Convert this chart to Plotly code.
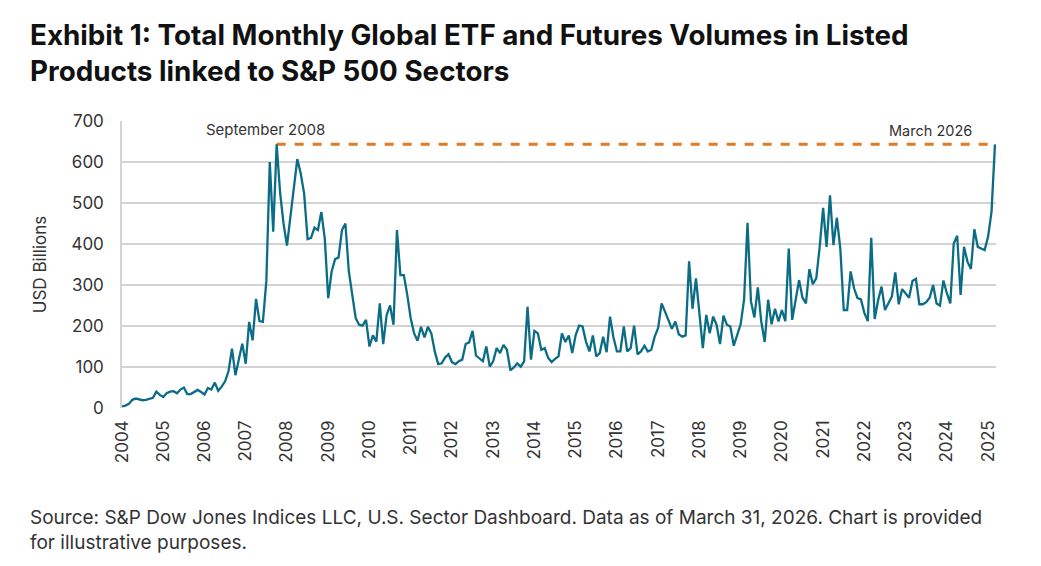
import plotly.graph_objects as go

# Monthly volumes (USD billions), index 0 .. 254
volumes = [
    4, 6, 10, 20, 23, 21, 19, 20, 23, 25, 40, 32, 27, 36, 40, 41, 36, 45, 50, 34,
    34, 40, 44, 39, 33, 49, 45, 62, 42, 52, 65, 90, 145, 80, 120, 157, 108, 210, 165, 266,
    212, 210, 310, 600, 430, 643, 525, 450, 396, 470, 530, 607, 572, 523, 412, 415, 440, 434, 478, 413,
    268, 333, 363, 367, 434, 450, 333, 276, 219, 203, 201, 215, 150, 177, 162, 255, 156, 227, 250, 203,
    434, 324, 324, 276, 219, 182, 164, 198, 172, 198, 182, 138, 107, 109, 123, 131, 112, 107, 114, 118,
    156, 160, 188, 128, 120, 114, 150, 101, 114, 146, 134, 154, 142, 92, 99, 109, 101, 114, 247, 118,
    188, 182, 142, 146, 122, 112, 120, 126, 182, 161, 177, 134, 178, 201, 199, 162, 138, 177, 126, 134,
    174, 136, 223, 172, 138, 138, 199, 138, 146, 201, 131, 138, 152, 138, 142, 174, 195, 255, 235, 215,
    193, 211, 180, 174, 177, 358, 242, 316, 223, 146, 227, 182, 223, 203, 156, 225, 203, 199, 152, 178,
    204, 264, 452, 260, 221, 294, 211, 161, 264, 204, 242, 211, 239, 212, 389, 215, 268, 312, 269, 255,
    339, 302, 316, 393, 488, 393, 519, 397, 464, 389, 239, 239, 333, 292, 268, 265, 232, 212, 415, 217,
    263, 296, 239, 255, 272, 331, 253, 290, 280, 269, 310, 315, 253, 253, 258, 269, 300, 255, 250, 311,
    280, 255, 401, 420, 276, 393, 357, 339, 436, 393, 389, 385, 418, 479, 643,
]
months = list(range(len(volumes)))

tick_labels = [str(y) for y in range(2004, 2026)]
tick_positions = [12 * k for k in range(len(tick_labels))]

peak_label = "September 2008"
last_label = "March 2026"
peak_index = 45
last_index = len(volumes) - 1
ref_level = volumes[last_index]

title = ("<b>Exhibit 1: Total Monthly Global ETF and Futures Volumes in Listed<br>"
         "Products linked to S&P 500 Sectors</b>")
source = ("Source: S&P Dow Jones Indices LLC, U.S. Sector Dashboard. Data as of March 31, 2026. Chart is provided<br>"
          "for illustrative purposes.")

FONT = "Inter"
PLOT_L, PLOT_R, PLOT_T, PLOT_B = 122, 996, 121, 408.3
PW, PH = PLOT_R - PLOT_L, PLOT_B - PLOT_T


def px_x(x):
    return (x - PLOT_L) / PW


def px_y(y):
    return (PLOT_B - y) / PH


fig = go.Figure()
fig.add_trace(go.Scatter(
    x=[peak_index, last_index], y=[ref_level, ref_level], mode="lines",
    line=dict(color="#E07B26", width=3, dash="dash"), hoverinfo="skip", showlegend=False))
fig.add_trace(go.Scatter(
    x=months, y=volumes, mode="lines",
    line=dict(color="#0B6C85", width=2.3), showlegend=False))

fig.add_annotation(x=peak_index, y=ref_level, text=peak_label, showarrow=False,
                   xanchor="center", yanchor="bottom", yshift=3, xshift=-11,
                   font=dict(family=FONT, size=15, color="#333333"))
fig.add_annotation(x=last_index, y=ref_level, text=last_label, showarrow=False,
                   xanchor="right", yanchor="bottom", yshift=3, xshift=-21,
                   font=dict(family=FONT, size=14.5, color="#333333"))

fig.add_annotation(xref="paper", yref="paper", x=px_x(28), y=px_y(16),
                   text=title, showarrow=False, xanchor="left", yanchor="top", align="left",
                   font=dict(family=FONT, size=27.8, color="#111111"))
fig.add_annotation(xref="paper", yref="paper", x=px_x(28), y=px_y(504),
                   text=source, showarrow=False, xanchor="left", yanchor="top", align="left",
                   font=dict(family=FONT, size=19, color="#333333"))

fig.update_layout(
    width=1041, height=566,
    margin=dict(l=PLOT_L, r=1041 - PLOT_R, t=PLOT_T, b=566 - PLOT_B),
    paper_bgcolor="white", plot_bgcolor="white",
    font=dict(family=FONT, size=17, color="#333333"),
    xaxis=dict(range=[0, 254.3], tickmode="array", tickvals=tick_positions, ticktext=tick_labels,
               tickangle=-90, showgrid=False, zeroline=False, showline=False,
               ticks="", ticklen=0, ticklabelstandoff=8, tickfont=dict(size=17, color="#333333")),
    yaxis=dict(range=[0, 700], dtick=100, showgrid=True, gridcolor="#D3D3D3", gridwidth=1.5,
               zeroline=False, showline=True, linecolor="#D3D3D3", linewidth=1.5,
               ticks="", ticklabelstandoff=13, tickfont=dict(size=17, color="#333333"),
               title=dict(text="USD Billions", font=dict(size=17, color="#333333"), standoff=20)),
)

fig.write_html("out.html")
